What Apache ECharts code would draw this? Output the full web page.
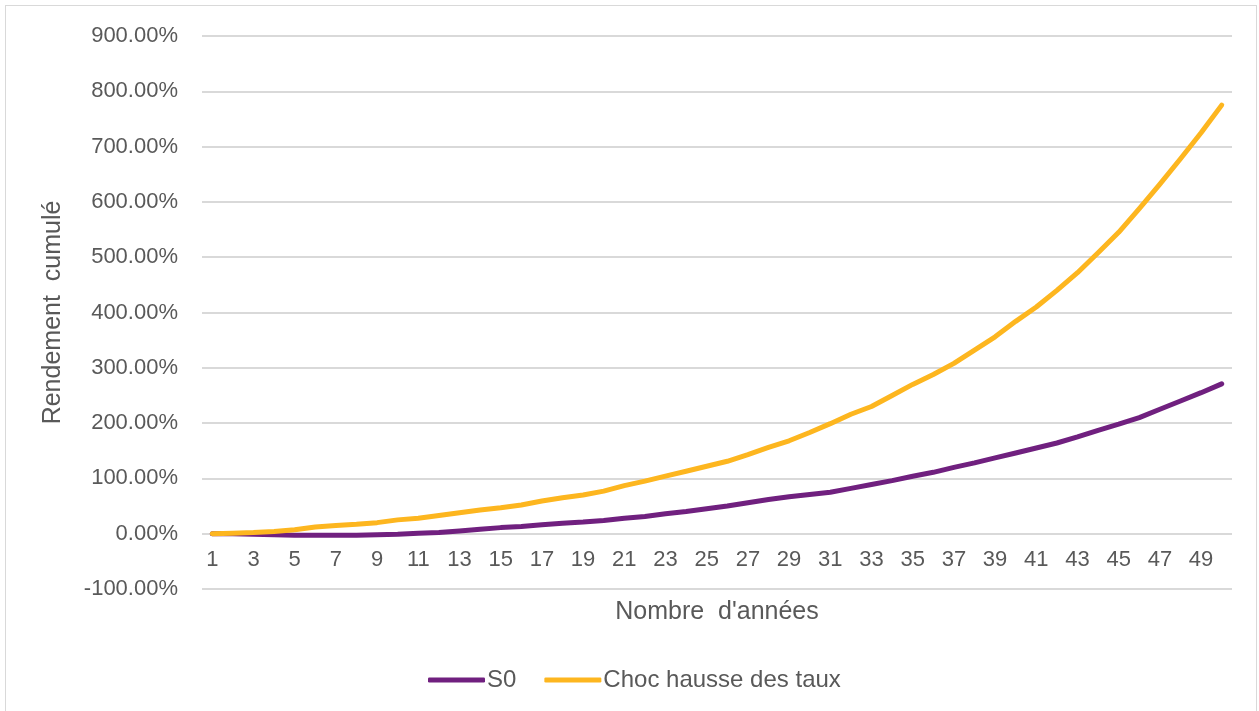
<!DOCTYPE html>
<html>
<head>
<meta charset="utf-8">
<script src="https://cdn.jsdelivr.net/npm/echarts@6/dist/echarts.min.js"></script>
<style>
  html, body { margin: 0; padding: 0; background: #fff; }
  #frame { position: absolute; left: 5px; top: 5px; width: 1252px; height: 712px; border: 1px solid #d9d9d9; box-sizing: border-box; }
  #chart { position: absolute; left: 0; top: 0; width: 1259px; height: 711px; }
</style>
</head>
<body>
<div id="frame"></div>
<div id="chart"></div>
<script>
  // années 1..50
  var years = []
  for (var y = 1; y <= 50; y++) years.push(String(y))

  // rendement cumulé en %
  var s0 = [0, 0, -1, -2, -3, -3, -3, -3, -2, -1,
    1, 2, 5, 8, 11, 13, 16, 19, 21, 24,
    28, 31, 36, 40, 45, 50, 56, 62, 67, 71,
    75, 82, 89, 96, 104, 111, 120, 128, 137, 146,
    155, 164, 175, 187, 198, 210, 225, 240, 255, 271]

  var chocTaux = [0, 1, 2, 4, 7, 12, 15, 17, 20, 25,
    28, 33, 38, 43, 47, 52, 59, 65, 70, 77,
    87, 95, 104, 113, 122, 131, 143, 156, 168, 183,
    199, 216, 230, 250, 270, 288, 308, 332, 356, 384,
    410, 440, 472, 508, 545, 588, 632, 678, 725, 775]

  var seriesNames = ['S0', 'Choc hausse des taux']
  var colorPalette = ['#70207f', '#fdb61f']
  var fontFam = '"Liberation Sans", Arial, sans-serif'
  var txtColor = '#595959'

  var chart = echarts.init(document.getElementById('chart'))
  var options = {
    color: colorPalette,
    animation: false,
    textStyle: { fontFamily: fontFam },
    grid: {
      left: 202,
      right: 27,
      top: 36,
      bottom: 122,
      containLabel: false
    },
    legend: {
      left: 423,
      bottom: 14,
      itemWidth: 57,
      itemHeight: 5,
      itemGap: 28,
      icon: 'roundRect',
      textStyle: { color: txtColor, fontSize: 24, fontFamily: fontFam, padding: [0, 0, 0, -3] },
      data: seriesNames
    },
    xAxis: [{
      type: 'category',
      data: years,
      boundaryGap: true,
      offset: -55,
      name: "Nombre  d'années",
      nameLocation: 'middle',
      nameGap: 66,
      nameTextStyle: { color: txtColor, fontSize: 25, fontFamily: fontFam },
      axisLine: { show: false, onZero: false },
      axisTick: { show: false },
      axisLabel: { interval: 1, color: txtColor, fontSize: 22, margin: 15, fontFamily: fontFam },
      splitLine: { show: false }
    }],
    yAxis: [{
      type: 'value',
      min: -100,
      max: 900,
      interval: 100,
      name: 'Rendement  cumulé',
      nameLocation: 'middle',
      nameRotate: 90,
      nameGap: 136,
      nameTextStyle: { color: txtColor, fontSize: 25, fontFamily: fontFam },
      axisLine: { show: false },
      axisTick: { show: false },
      axisLabel: {
        color: txtColor,
        fontSize: 22,
        margin: 24,
        fontFamily: fontFam,
        formatter: function (v) { return v.toFixed(2) + '%' }
      },
      splitLine: { show: true, lineStyle: { color: '#d9d9d9', width: 2 } }
    }],
    series: [{
      name: seriesNames[0],
      type: 'line',
      data: s0,
      showSymbol: false,
      symbol: 'none',
      lineStyle: { width: 5, cap: 'round', join: 'round' },
      z: 3
    }, {
      name: seriesNames[1],
      type: 'line',
      data: chocTaux,
      showSymbol: false,
      symbol: 'none',
      lineStyle: { width: 5, cap: 'round', join: 'round' },
      z: 4
    }]
  }
  chart.setOption(options)
</script>
</body>
</html>
